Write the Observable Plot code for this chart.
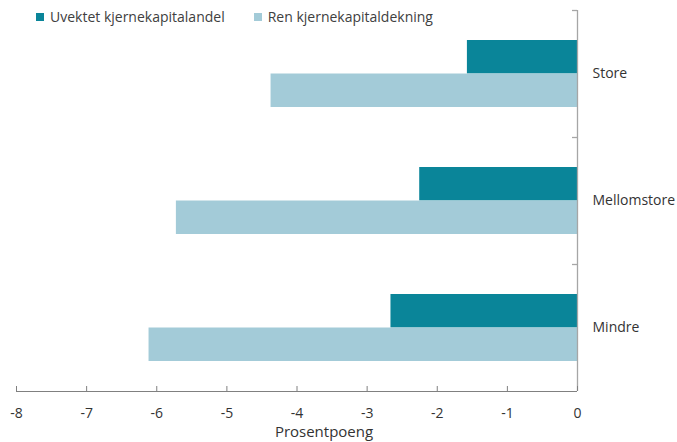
<!DOCTYPE html>
<html>
<head>
<meta charset="utf-8">
<script src="https://cdn.jsdelivr.net/npm/d3@7"></script>
<script src="https://cdn.jsdelivr.net/npm/@observablehq/plot@0.6"></script>
<style>
  html, body { margin: 0; padding: 0; background: #fff; }
  body { font-family: "Open Sans", sans-serif; }
  #wrap { position: relative; width: 677px; height: 442px; }
  #legend { position: absolute; left: 36px; top: 7px; display: flex; align-items: center;
            font-size: 14px; line-height: 20px; color: #404040; z-index: 2; }
  .item { display: flex; align-items: center; margin-right: 29px; }
  .sw { width: 8px; height: 8px; margin-right: 6px; }
</style>
</head>
<body>
<div id="wrap"><div id="legend"></div></div>
<script>
const categories = ["Store", "Mellomstore", "Mindre"];
const seriesNames = ["Uvektet kjernekapitalandel", "Ren kjernekapitaldekning"];
const uvektet = [-1.57, -2.25, -2.66];
const ren = [-4.37, -5.72, -6.11];
const xTicks = [-8, -7, -6, -5, -4, -3, -2, -1, 0];
const colors = ["#0a8599", "#a3cbd8"];
const xLabel = "Prosentpoeng";

const rowsA = categories.map((c, i) => ({category: c, series: seriesNames[0], value: uvektet[i]}));
const rowsB = categories.map((c, i) => ({category: c, series: seriesNames[1], value: ren[i]}));

// legend
const legend = document.getElementById("legend");
seriesNames.forEach((s, i) => {
  const it = document.createElement("div");
  it.className = "item";
  const sw = document.createElement("span");
  sw.className = "sw";
  sw.style.background = colors[i];
  const tx = document.createElement("span");
  tx.textContent = s;
  it.appendChild(sw); it.appendChild(tx);
  legend.appendChild(it);
});

const half = 63.5;
const chart = Plot.plot({
  width: 677,
  height: 442,
  marginLeft: 16,
  marginRight: 100,
  marginTop: 10,
  marginBottom: 51,
  style: {fontFamily: "Open Sans", fontSize: "14px", color: "#333", background: "#fff"},
  x: {domain: [-8, 0], axis: null},
  y: {domain: categories, type: "band", padding: 0, axis: null},
  color: {domain: seriesNames, range: colors},
  marks: [
    Plot.barX(rowsA, {y: "category", x1: 0, x2: "value", fill: "series", insetTop: 30, insetBottom: half}),
    Plot.barX(rowsB, {y: "category", x1: 0, x2: "value", fill: "series", insetTop: half, insetBottom: 30}),
    Plot.ruleX([0], {stroke: "#a6a6a6", strokeWidth: 1.3}),
    Plot.ruleY(categories, {y: d => d, x1: 0, x2: 0, insetLeft: -5, dy: -half, stroke: "#a6a6a6", strokeWidth: 1.3}),
    Plot.ruleY([categories[categories.length - 1]], {y: d => d, dy: half, stroke: "#808080", strokeWidth: 1.2}),
    Plot.ruleX(xTicks, {x: d => d, insetTop: 376, stroke: "#808080", strokeWidth: 1}),
    Plot.axisX({ticks: xTicks, tickSize: 0, tickPadding: 17, tickFormat: d => String(d), label: null, fill: "#333"}),
    Plot.axisY({anchor: "right", tickSize: 0, tickPadding: 15, label: null, fill: "#333"}),
    Plot.text([xLabel], {frameAnchor: "bottom", lineAnchor: "top", dy: 35, dx: 27, fill: "#333", fontSize: 15})
  ]
});
document.getElementById("wrap").appendChild(chart);
</script>
</body>
</html>
